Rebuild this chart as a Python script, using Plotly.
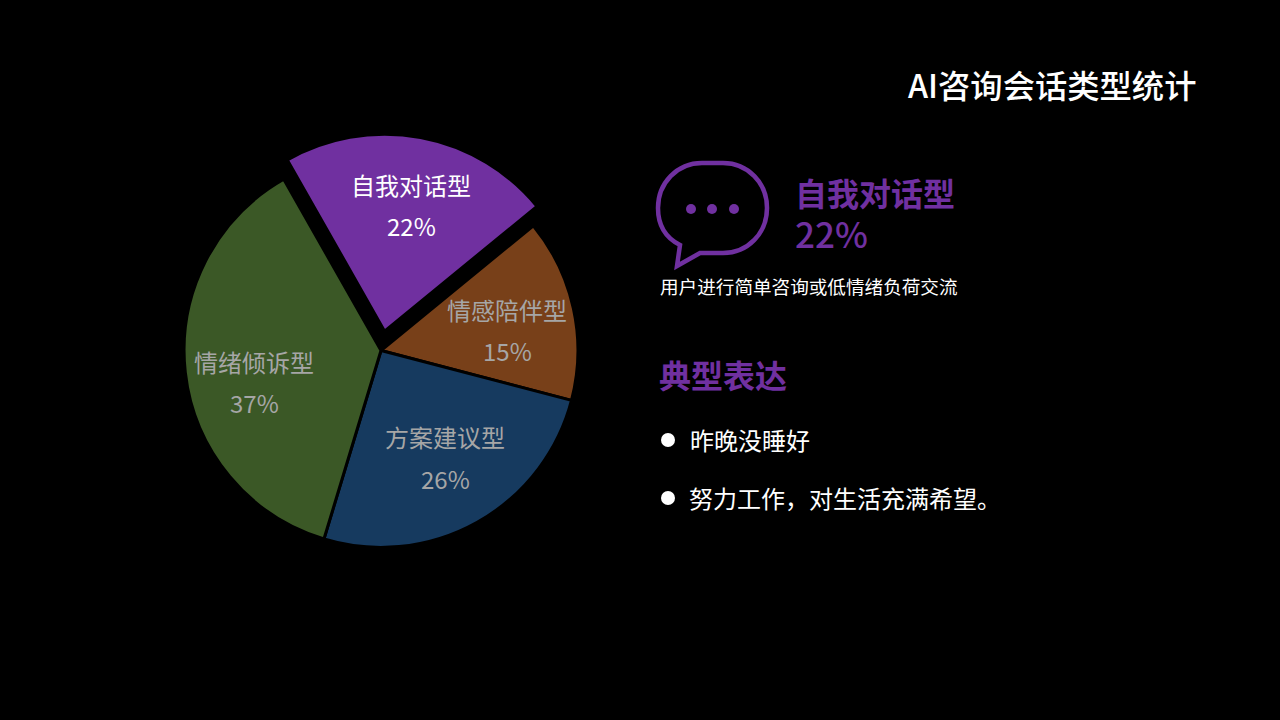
import plotly.graph_objects as go

W, H = 1280, 720
categories = ["自我对话型", "情感陪伴型", "方案建议型", "情绪倾诉型"]
values = [22.3, 15.0, 25.6, 37.1]
colors = ["#7030A0", "#784019", "#163A5F", "#3B5826"]
pulls = [0.1, 0, 0, 0]
label_colors = ["#FFFFFF", "#A6A6A6", "#A6A6A6", "#A6A6A6"]
label_xy = [(411, 184), (507, 309), (445, 437), (254, 361)]
FONT = "Noto Sans CJK SC"
PURPLE = "#7030A0"

def px(x): return x / W
def py(y): return 1 - y / H

CX, CY, HALF = 381, 350.5, 216.6
fig = go.Figure(go.Pie(
    labels=categories, values=values, sort=False, direction="clockwise",
    rotation=-29.6, pull=pulls, textinfo="none", hoverinfo="label+percent",
    marker=dict(colors=colors, line=dict(color="#000000", width=3)),
    domain=dict(x=[px(CX - HALF), px(CX + HALF)], y=[py(CY + HALF), py(CY - HALF)]),
    showlegend=False,
))

ann = []
def text(x, y, s, size, color, anchor="left", weight=400):
    ann.append(dict(x=px(x), y=py(y), xref="paper", yref="paper", text=s, showarrow=False,
                    xanchor=anchor, yanchor="middle", align=anchor,
                    font=dict(family=FONT, size=size, color=color, weight=weight)))

for c, v, lc, (x, y) in zip(categories, values, label_colors, label_xy):
    text(x, y, c, 24, lc, "center")
    text(x, y + 41, f"{v:.0f}%", 24, lc, "center")

text(1198, 84, "AI咨询会话类型统计", 32.3, "#FFFFFF", "right", 500)
text(793, 213, f"<b>{categories[0]}</b><br><span style='font-size:35px'>{values[0]:.0f}%</span>", 32, PURPLE, "left", 500)
text(657.5, 286, "用户进行简单咨询或低情绪负荷交流", 18.6, "#FFFFFF")
text(657, 374, "典型表达", 32, PURPLE, "left", 700)
text(687.5, 439, "昨晚没睡好", 24, "#FFFFFF")
text(687, 497, "努力工作，对生活充满希望。", 24, "#FFFFFF")

def path(pts):
    out = []
    for cmd, coords in pts:
        out.append(cmd + " ".join(f"{px(coords[i]):.5f} {py(coords[i+1]):.5f}" for i in range(0, len(coords), 2)))
    return " ".join(out) + " Z"

bubble = path([
    ("M", (700, 253)), ("L", (723, 253)), ("C", (748, 253, 767, 233, 767, 208)),
    ("C", (767, 183, 748, 163, 723, 163)), ("L", (702, 163)),
    ("C", (677, 163, 658, 183, 658, 208)), ("C", (658, 225, 666, 238, 680, 245)),
    ("L", (677, 266)),
])
shapes = [dict(type="path", xref="paper", yref="paper", path=bubble,
               line=dict(color=PURPLE, width=4.5), fillcolor="rgba(0,0,0,0)")]

def dot(cx, cy, r, color):
    shapes.append(dict(type="circle", xref="paper", yref="paper",
                       x0=px(cx - r), x1=px(cx + r), y0=py(cy + r), y1=py(cy - r),
                       fillcolor=color, line=dict(width=0)))

for cx in (691, 712, 734):
    dot(cx, 209, 5, PURPLE)
dot(668, 440, 7, "#FFFFFF")
dot(668, 498, 7, "#FFFFFF")

fig.update_layout(width=W, height=H, autosize=False, margin=dict(l=0, r=0, t=0, b=0),
                  paper_bgcolor="#000000", plot_bgcolor="#000000",
                  annotations=ann, shapes=shapes, font=dict(family=FONT))
fig.write_html("out.html", config=dict(displayModeBar=False),
               post_script="document.documentElement.style.background='#000';document.body.style.margin='0';document.body.style.background='#000';document.body.style.overflow='hidden';")
